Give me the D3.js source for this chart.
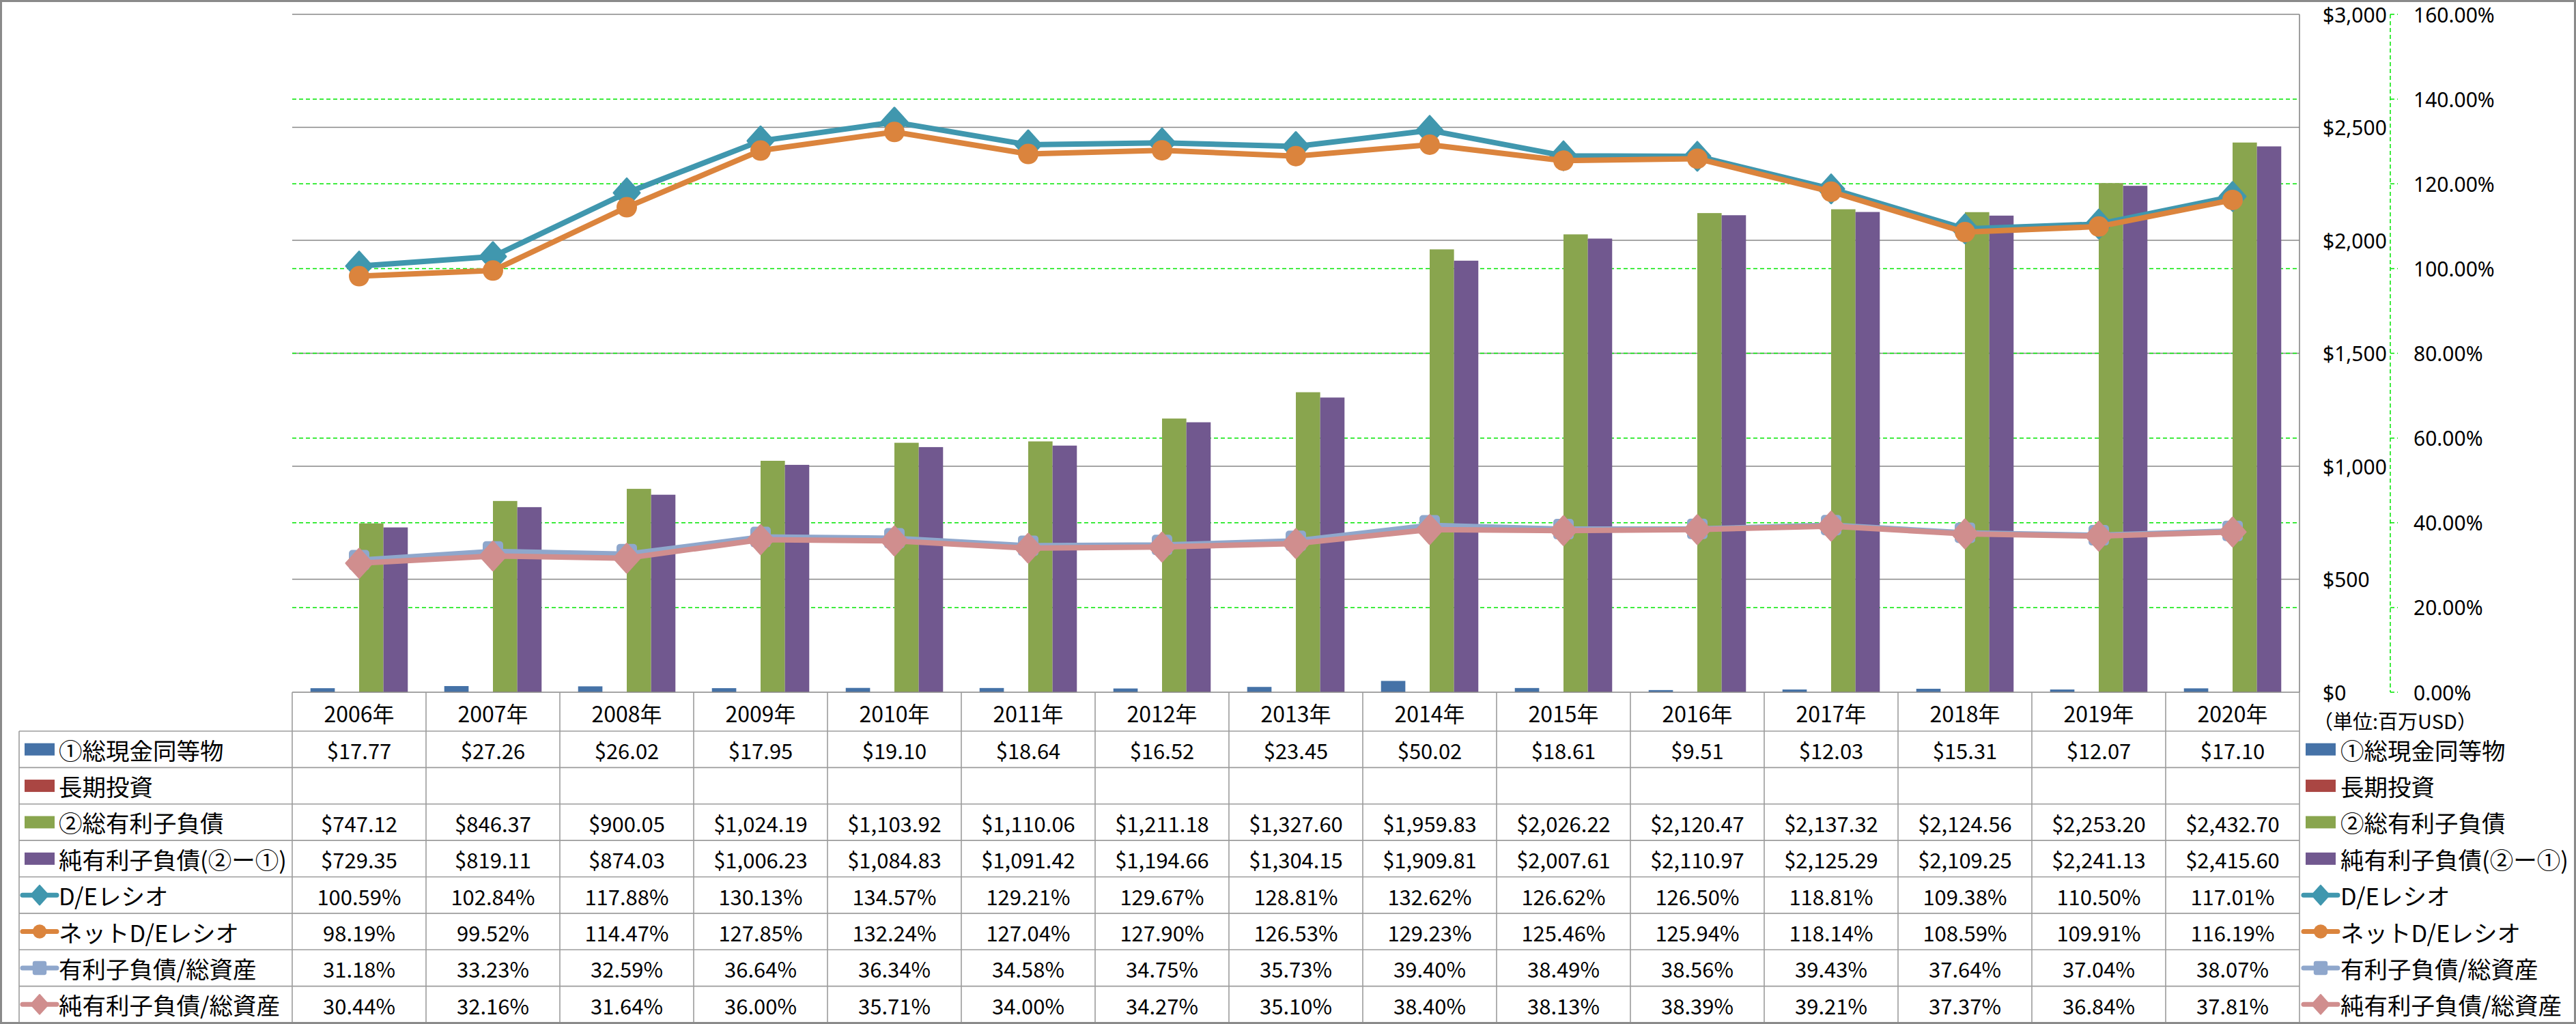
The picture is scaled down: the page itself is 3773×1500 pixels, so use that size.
<!DOCTYPE html>
<html><head><meta charset="utf-8">
<script src="https://cdn.jsdelivr.net/npm/d3@7"></script>
<style>html,body{margin:0;padding:0;background:#fff}</style>
</head><body>
<svg id="c" width="3773" height="1500"></svg>
<script>
// ---------- DATA ----------
const years = ["2006年","2007年","2008年","2009年","2010年","2011年","2012年","2013年","2014年","2015年","2016年","2017年","2018年","2019年","2020年"];
const cashEq      = [17.77,27.26,26.02,17.95,19.10,18.64,16.52,23.45,50.02,18.61,9.51,12.03,15.31,12.07,17.10];
const longInvest  = [null,null,null,null,null,null,null,null,null,null,null,null,null,null,null];
const totalDebt   = [747.12,846.37,900.05,1024.19,1103.92,1110.06,1211.18,1327.60,1959.83,2026.22,2120.47,2137.32,2124.56,2253.20,2432.70];
const netDebt     = [729.35,819.11,874.03,1006.23,1084.83,1091.42,1194.66,1304.15,1909.81,2007.61,2110.97,2125.29,2109.25,2241.13,2415.60];
const deRatio     = [100.59,102.84,117.88,130.13,134.57,129.21,129.67,128.81,132.62,126.62,126.50,118.81,109.38,110.50,117.01];
const netDeRatio  = [98.19,99.52,114.47,127.85,132.24,127.04,127.90,126.53,129.23,125.46,125.94,118.14,108.59,109.91,116.19];
const debtAssets  = [31.18,33.23,32.59,36.64,36.34,34.58,34.75,35.73,39.40,38.49,38.56,39.43,37.64,37.04,38.07];
const netDebtAssets = [30.44,32.16,31.64,36.00,35.71,34.00,34.27,35.10,38.40,38.13,38.39,39.21,37.37,36.84,37.81];
const leftTicks  = [0,500,1000,1500,2000,2500,3000];
const rightTicks = [0,20,40,60,80,100,120,140,160];
const unitLabel = "（単位:百万USD）";

const barSeries = [
  {name:"①総現金同等物", values:cashEq, color:"#4572A7"},
  {name:"長期投資", values:longInvest, color:"#AA4643"},
  {name:"②総有利子負債", values:totalDebt, color:"#89A54E"},
  {name:"純有利子負債(②ー①)", values:netDebt, color:"#71588F"}
];
const lineSeries = [
  {name:"D/Eレシオ", values:deRatio, color:"#4097AE", marker:"diamond"},
  {name:"ネットD/Eレシオ", values:netDeRatio, color:"#DB843D", marker:"circle"},
  {name:"有利子負債/総資産", values:debtAssets, color:"#8FA7CC", marker:"square"},
  {name:"純有利子負債/総資産", values:netDebtAssets, color:"#D08E8E", marker:"diamond"}
];

// ---------- LAYOUT ----------
const svg = d3.select("#c");
const P = {left:428, right:3368, top:21, bottom:1014};
const tableTop = 1071, tableBottom = 1498, labelLeft = 28;
const rowH = (tableBottom - tableTop) / 8;
const GRAY = "#878787", TGRAY = "#9c9c9c", GREEN = "#00e600";
const JP = "'Noto Sans CJK JP', 'Noto Sans', sans-serif";

svg.append("rect").attr("width",3773).attr("height",1500).attr("fill","#fff");

const x = d3.scaleBand().domain(years).range([P.left, P.right]).padding(0);
const xs = d3.scaleBand().domain(d3.range(barSeries.length)).range([0, x.bandwidth()]).paddingInner(0).paddingOuter(0.75);
const yL = d3.scaleLinear().domain([0,3000]).range([P.bottom, P.top]);
const yR = d3.scaleLinear().domain([0,160]).range([P.bottom, P.top]);

// gridlines (gray, primary)
svg.append("g").selectAll("line").data(leftTicks.filter(d=>d>0)).join("line")
  .attr("x1",P.left).attr("x2",P.right).attr("y1",d=>yL(d)).attr("y2",d=>yL(d))
  .attr("stroke",GRAY).attr("stroke-width",1.6);
// gridlines (green dashed, secondary)
svg.append("g").selectAll("line").data(rightTicks.filter(d=>d>0 && d<160)).join("line")
  .attr("x1",P.left).attr("x2",P.right).attr("y1",d=>yR(d)).attr("y2",d=>yR(d))
  .attr("stroke",GREEN).attr("stroke-width",1.5).attr("stroke-dasharray","6,4");
// right border of plot
svg.append("line").attr("x1",P.right).attr("x2",P.right).attr("y1",P.top).attr("y2",P.bottom)
  .attr("stroke",GRAY).attr("stroke-width",1.6);

// bars
barSeries.forEach((s,si)=>{
  svg.append("g").selectAll("rect").data(s.values.map((v,i)=>({v,i})).filter(d=>d.v!=null)).join("rect")
    .attr("x",d=>x(years[d.i]) + xs(si))
    .attr("width",xs.bandwidth())
    .attr("y",d=>yL(d.v))
    .attr("height",d=>yL(0)-yL(d.v))
    .attr("fill",s.color);
});

// marker helper
function marker(g, type, color, cx, cy, k){
  if(type==="diamond"){
    g.append("path").attr("d",`M${cx},${cy-21*k} L${cx+19*k},${cy} L${cx},${cy+21*k} L${cx-19*k},${cy} Z`)
     .attr("fill",color).attr("stroke",color).attr("stroke-width",3*k).attr("stroke-linejoin","round");
  } else if(type==="circle"){
    g.append("circle").attr("cx",cx).attr("cy",cy).attr("r",15*k).attr("fill",color);
  } else {
    g.append("rect").attr("x",cx-15*k).attr("y",cy-15*k).attr("width",30*k).attr("height",30*k)
     .attr("rx",5*k).attr("fill",color);
  }
}

// lines
const line = d3.line().x((d,i)=>x(years[i])+x.bandwidth()/2).y(d=>yR(d));
lineSeries.forEach(s=>{
  const g = svg.append("g");
  g.append("path").attr("d",line(s.values)).attr("fill","none").attr("stroke",s.color)
    .attr("stroke-width",8).attr("stroke-linejoin","round").attr("stroke-linecap","round");
  s.values.forEach((v,i)=>marker(g, s.marker, s.color, x(years[i])+x.bandwidth()/2, yR(v), 1));
});

// left-value axis labels (placed at right)
svg.append("g").selectAll("text").data(leftTicks).join("text")
  .attr("x",3402).attr("y",d=>yL(d)).attr("dominant-baseline","central")
  .attr("font-family","'Noto Sans', sans-serif").attr("font-size",30).attr("fill","#000")
  .text(d=>d3.format("$,")(d));
// secondary axis
svg.append("line").attr("x1",3501).attr("x2",3501).attr("y1",P.top).attr("y2",P.bottom)
  .attr("stroke",GREEN).attr("stroke-width",1.5).attr("stroke-dasharray","6,4");
svg.append("g").selectAll("line").data(rightTicks).join("line")
  .attr("x1",3501).attr("x2",3512).attr("y1",d=>yR(d)).attr("y2",d=>yR(d))
  .attr("stroke",GREEN).attr("stroke-width",1.5).attr("stroke-dasharray","6,4");
svg.append("g").selectAll("text").data(rightTicks).join("text")
  .attr("x",3535).attr("y",d=>yR(d)).attr("dominant-baseline","central")
  .attr("font-family","'Noto Sans', sans-serif").attr("font-size",30).attr("fill","#000")
  .text(d=>d3.format(".2%")(d/100));

// ---------- DATA TABLE ----------
const tg = svg.append("g");
tg.append("line").attr("x1",P.left).attr("x2",P.right).attr("y1",P.bottom).attr("y2",P.bottom)
  .attr("stroke",GRAY).attr("stroke-width",1.6);
tg.selectAll("line.col").data(d3.range(years.length+1)).join("line").attr("class","col")
  .attr("x1",i=>P.left+i*x.bandwidth()).attr("x2",i=>P.left+i*x.bandwidth())
  .attr("y1",P.bottom).attr("y2",tableBottom).attr("stroke",TGRAY).attr("stroke-width",1.6);
tg.append("line").attr("x1",labelLeft).attr("x2",labelLeft).attr("y1",tableTop).attr("y2",tableBottom)
  .attr("stroke",TGRAY).attr("stroke-width",1.6);
tg.selectAll("line.row").data(d3.range(9)).join("line").attr("class","row")
  .attr("x1",labelLeft).attr("x2",P.right).attr("y1",r=>tableTop+r*rowH).attr("y2",r=>tableTop+r*rowH)
  .attr("stroke",TGRAY).attr("stroke-width",1.6);
tg.selectAll("text.yr").data(years).join("text").attr("class","yr")
  .attr("x",d=>x(d)+x.bandwidth()/2).attr("y",(P.bottom+tableTop)/2+1)
  .attr("text-anchor","middle").attr("dominant-baseline","central")
  .attr("font-family",JP).attr("font-size",32).text(d=>d);

const allSeries = barSeries.map(s=>({...s,kind:"bar"})).concat(lineSeries.map(s=>({...s,kind:"line"})));
const fmtMoney = d3.format("$,.2f");
function legendKey(g, s, cx, cy){
  if(s.kind==="bar"){
    g.append("rect").attr("x",cx-22).attr("y",cy-9).attr("width",44).attr("height",18).attr("fill",s.color);
  } else {
    g.append("line").attr("x1",cx-25).attr("x2",cx+25).attr("y1",cy).attr("y2",cy)
      .attr("stroke",s.color).attr("stroke-width",7).attr("stroke-linecap","round");
    marker(g, s.marker, s.color, cx, cy, 0.68);
  }
}
allSeries.forEach((s,r)=>{
  const cy = tableTop + r*rowH + rowH/2;
  legendKey(tg, s, 58, cy);
  tg.append("text").attr("x",86).attr("y",cy).attr("dominant-baseline","central")
    .attr("font-family",JP).attr("font-size",34.5).text(s.name);
  tg.selectAll(null).data(s.values.map((v,i)=>({v,i})).filter(d=>d.v!=null)).join("text")
    .attr("x",d=>x(years[d.i])+x.bandwidth()/2).attr("y",cy+1)
    .attr("text-anchor","middle").attr("dominant-baseline","central")
    .attr("font-family",JP).attr("font-size",31)
    .text(d=> s.kind==="bar" ? fmtMoney(d.v) : d3.format(".2f")(d.v)+"%");
  legendKey(tg, s, 3399, cy);
  tg.append("text").attr("x",3428).attr("y",cy).attr("dominant-baseline","central")
    .attr("font-family",JP).attr("font-size",34.5).text(s.name);
});
// unit label
svg.append("text").attr("x",3388).attr("y",1055).attr("dominant-baseline","central")
  .attr("font-family",JP).attr("font-size",29).text(unitLabel);

// outer border
svg.append("rect").attr("x",1.5).attr("y",1.5).attr("width",3770).attr("height",1497)
  .attr("fill","none").attr("stroke","#8a8a8a").attr("stroke-width",3);
</script>
</body></html>
